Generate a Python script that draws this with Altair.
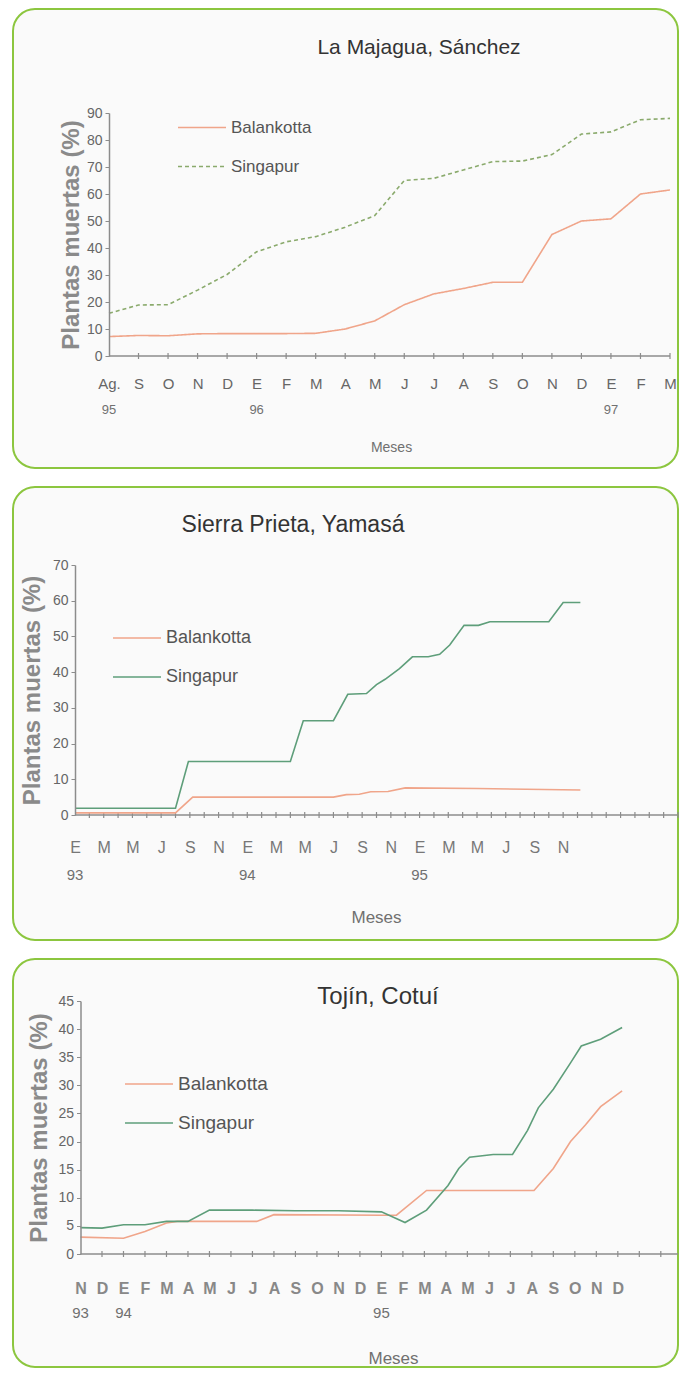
import json
import altair as alt
import pandas as pd

FONT = "Liberation Sans"
GREEN = "#8cc63f"
AXC = "#8c8c8c"
ORANGE = "#f0a58a"
SERIES = ["Balankotta", "Singapur"]

# ---------------- Panel 1: La Majagua, Sánchez ----------------
p1_title = "La Majagua, Sánchez"
p1_months = ["Ag.", "S", "O", "N", "D", "E", "F", "M", "A", "M",
             "J", "J", "A", "S", "O", "N", "D", "E", "F", "M"]
p1_month_pos = list(range(20))
p1_years = ["95", "96", "97"]
p1_year_pos = [0, 5, 17]
p1_ticks = list(range(1, 20))
p1_x = list(range(20))
p1_bal = [7.2, 7.6, 7.5, 8.2, 8.3, 8.3, 8.3, 8.4, 10.0, 13.0,
          19.0, 23.0, 25.0, 27.3, 27.3, 45.0, 50.0, 50.8, 60.0, 61.5]
p1_sing = [15.8, 18.9, 19.0, 24.4, 30.2, 38.6, 42.3, 44.2, 47.7, 52.0,
           65.0, 65.8, 68.9, 72.0, 72.2, 74.6, 82.2, 83.0, 87.5, 88.0]

# ---------------- Panel 2: Sierra Prieta, Yamasá ----------------
p2_title = "Sierra Prieta, Yamasá"
p2_months = ["E", "M", "M", "J", "S", "N"] * 3
p2_month_pos = list(range(0, 36, 2))
p2_years = ["93", "94", "95"]
p2_year_pos = [0, 12, 24]
p2_ticks = list(range(1, 43))
p2_sing_x = [0, 7.0, 7.9, 15.0, 15.9, 18.0, 19.0, 20.3, 21.0, 21.6, 22.6,
             23.5, 24.6, 25.4, 26.1, 27.1, 28.1, 28.9, 33.0, 34.0, 35.2]
p2_sing = [1.9, 1.9, 15.0, 15.0, 26.4, 26.4, 33.8, 34.0, 36.5, 38.0, 41.0,
           44.3, 44.3, 45.0, 47.6, 53.1, 53.1, 54.1, 54.1, 59.5, 59.5]
p2_bal_x = [0, 7.0, 8.2, 18.0, 18.9, 19.8, 20.6, 21.8, 23.0, 28.0, 35.2]
p2_bal = [0.6, 0.6, 5.0, 5.0, 5.7, 5.8, 6.5, 6.6, 7.6, 7.4, 7.0]

# ---------------- Panel 3: Tojín, Cotuí ----------------
p3_title = "Tojín, Cotuí"
p3_months = ["N", "D", "E", "F", "M", "A", "M", "J", "J", "A", "S", "O", "N",
             "D", "E", "F", "M", "A", "M", "J", "J", "A", "S", "O", "N", "D"]
p3_month_pos = list(range(26))
p3_years = ["93", "94", "95"]
p3_year_pos = [0, 2, 14]
p3_ticks = list(range(1, 28))
p3_sing_x = [0, 1, 2, 3, 4, 5, 6, 8, 10, 12, 14, 15.1, 16.1, 17.1, 17.6,
             18.1, 19.2, 20.1, 20.8, 21.3, 22.0, 22.8, 23.3, 24.2, 25.2]
p3_sing = [4.7, 4.6, 5.2, 5.2, 5.8, 5.8, 7.8, 7.8, 7.7, 7.7, 7.5, 5.6, 7.8,
           12.2, 15.2, 17.2, 17.7, 17.7, 22.0, 26.0, 29.3, 34.0, 37.0, 38.2, 40.3]
p3_bal_x = [0, 2, 3, 4, 4.5, 8.2, 9, 14.1, 14.7, 16.1, 21.1, 22.0, 22.8,
            23.5, 24.2, 25.2]
p3_bal = [3.0, 2.8, 4.0, 5.5, 5.8, 5.8, 7.0, 6.9, 6.9, 11.3, 11.3, 15.2,
          20.0, 23.0, 26.2, 29.0]


def panel(c):
    w, h = c["w"], c["h"]
    xs = alt.Scale(domain=c["xdom"], nice=False, zero=False)
    ys = alt.Scale(domain=[0, c["ymax"]], nice=False)
    expr = "%s[indexof(%s, datum.value)]" % (json.dumps(c["months"]),
                                              json.dumps(c["month_pos"]))
    xaxis = alt.Axis(
        values=c["month_pos"], labelExpr=expr, domain=False, ticks=False,
        tickSize=0, grid=False, labelPadding=c["lp"], labelBaseline="middle",
        labelFont=FONT, labelFontSize=c["mfs"], labelFontWeight=c["mfw"],
        labelColor=c["mcol"], labelFlush=False, labelOverlap=False,
        title="Meses", titleX=c["mx"], titleY=c["my"], titleBaseline="middle",
        titleAlign="center", titleFont=FONT, titleFontSize=c["msz"],
        titleFontWeight="normal", titleColor="#707070", zindex=2)
    yaxis = alt.Axis(
        values=list(range(0, c["ymax"] + 1, c["ystep"])),
        title="Plantas muertas (%)", titleFont=FONT, titleFontSize=24,
        titleFontWeight="bold", titleColor="#8a8a8a", titlePadding=c["tp"],
        labelFont=FONT, labelFontSize=14, labelColor="#666666", labelPadding=3,
        tickSize=4, tickColor=AXC, domainColor=AXC, domainWidth=1.5,
        grid=False, offset=c["yoff"], zindex=2)

    def X(f):
        return alt.X(f, type="quantitative", scale=xs, axis=xaxis)

    box = alt.Chart(alt.Data(values=[{}])).mark_rect(
        cornerRadius=22, fill="#fafafa", stroke=GREEN, strokeWidth=2
    ).encode(x=alt.value(-62), x2=alt.value(603),
             y=alt.value(-c["T"]), y2=alt.value(h + c["B"]))

    line_df = pd.DataFrame({"x": [0], "x2": [c["xend"]]})
    xline = alt.Chart(line_df).mark_rule(color=AXC, strokeWidth=1.5).encode(
        x=X("x"), x2="x2:Q", y=alt.value(h))

    tick_df = pd.DataFrame({"x": c["ticks"]})
    ticks = alt.Chart(tick_df).mark_rule(color=AXC, strokeWidth=1.2).encode(
        x=X("x"), y=alt.value(h - 3), y2=alt.value(h + 3))

    rows = []
    for s, xv, yv in c["series"]:
        for a, b in zip(xv, yv):
            rows.append({"serie": s, "x": a, "v": b})
    df = pd.DataFrame(rows)
    leg = alt.Legend(orient="none", legendX=c["lx"], legendY=c["ly"],
                     title=None, symbolType="stroke", symbolSize=2304,
                     symbolStrokeWidth=1.6, labelFont=FONT,
                     labelFontSize=c["lfs"], labelColor="#555555",
                     clipHeight=22, rowPadding=17, padding=0, labelOffset=4)
    enc = dict(
        x=X("x"),
        y=alt.Y("v:Q", scale=ys, axis=yaxis),
        color=alt.Color("serie:N", scale=alt.Scale(domain=SERIES,
                        range=[ORANGE, c["gcol"]]), legend=leg),
    )
    if c["dash"]:
        enc["strokeDash"] = alt.StrokeDash(
            "serie:N", scale=alt.Scale(domain=SERIES, range=[[1, 0], [4, 3]]),
            legend=leg)
    lines = alt.Chart(df).mark_line(strokeWidth=1.6).encode(**enc)

    yr_df = pd.DataFrame({"x": c["year_pos"], "label": c["years"]})
    years = alt.Chart(yr_df).mark_text(
        font=FONT, fontSize=c["yfs"], color="#707070", baseline="middle"
    ).encode(x=X("x"), y=alt.value(h + c["yo"]), text="label:N")

    title = alt.Chart(alt.Data(values=[{"t": c["title"]}])).mark_text(
        font=FONT, fontSize=c["tfs"], color="#333333", baseline="middle",
        align="center"
    ).encode(x=alt.value(c["tx"]), y=alt.value(c["ty"]), text="t:N")

    return alt.layer(box, xline, ticks, lines, years, title).properties(
        width=w, height=h)


c1 = dict(w=595, h=243, xdom=[-1.151, 19], xend=19, ymax=90, ystep=10,
          T=104, B=112, months=p1_months, month_pos=p1_month_pos,
          years=p1_years, year_pos=p1_year_pos, ticks=p1_ticks,
          series=[("Balankotta", p1_x, p1_bal), ("Singapur", p1_x, p1_sing)],
          gcol="#8aaa6c", dash=True, lp=27, mfs=15, mfw="normal",
          mcol="#666666", mx=316, my=91, msz=14, tp=3, yoff=-34,
          lx=102, ly=3.5, lfs=17, yfs=13, yo=54, title=p1_title, tfs=21,
          tx=344, ty=-65)
c2 = dict(w=603, h=250, xdom=[0, 42], xend=42, ymax=70, ystep=10,
          T=78, B=125, months=p2_months, month_pos=p2_month_pos,
          years=p2_years, year_pos=p2_year_pos, ticks=p2_ticks,
          series=[("Balankotta", p2_bal_x, p2_bal),
                  ("Singapur", p2_sing_x, p2_sing)],
          gcol="#5e9e7a", dash=False, lp=32, mfs=16, mfw="normal",
          mcol="#777777", mx=301, my=102, msz=17, tp=8, yoff=0,
          lx=37, ly=62, lfs=18, yfs=15, yo=60, title=p2_title, tfs=23,
          tx=218, ty=-40)
c3 = dict(w=603, h=253, xdom=[-0.256, 27.8], xend=27.8, ymax=45, ystep=5,
          T=42, B=113, months=p3_months, month_pos=p3_month_pos,
          years=p3_years, year_pos=p3_year_pos, ticks=p3_ticks,
          series=[("Balankotta", p3_bal_x, p3_bal),
                  ("Singapur", p3_sing_x, p3_sing)],
          gcol="#5e9e7a", dash=False, lp=34, mfs=16, mfw="bold",
          mcol="#888888", mx=318, my=104, msz=17, tp=6, yoff=-5.5,
          lx=49, ly=72, lfs=19, yfs=15, yo=59, title=p3_title, tfs=24,
          tx=303, ty=-4)

chart = alt.vconcat(panel(c1), panel(c2), panel(c3), spacing=17).resolve_scale(
    color="independent", strokeDash="independent"
).resolve_legend(
    color="independent", strokeDash="independent"
).properties(
    padding={"left": 4, "top": 0, "right": 0, "bottom": 0},
    background="white",
).configure_view(stroke=None)

chart.save("out.html", embed_options={"renderer": "svg", "actions": False})
